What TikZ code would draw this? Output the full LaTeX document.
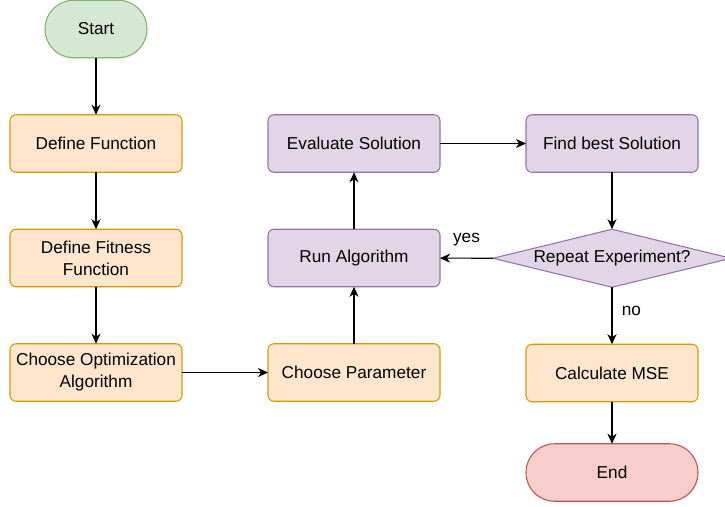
\documentclass[tikz,border=0pt]{standalone}
\usepackage{fontspec}
\setmainfont{Liberation Sans}
\usetikzlibrary{positioning}
\usetikzlibrary{shapes.geometric}
\usetikzlibrary{arrows.meta}

\definecolor{greenfill}{HTML}{D5E8D4}
\definecolor{greenline}{HTML}{82B366}
\definecolor{orangefill}{HTML}{FFE6CC}
\definecolor{orangeline}{HTML}{D79B00}
\definecolor{purplefill}{HTML}{E1D5E7}
\definecolor{purpleline}{HTML}{9673A6}
\definecolor{redfill}{HTML}{F8CECC}
\definecolor{redline}{HTML}{B85450}

\begin{document}
\begin{tikzpicture}
		[font=\fontsize{9.8}{12.5}\selectfont, line width=0.6pt,
		 node distance=1.14cm and 1.72cm,
		 process/.style={rectangle, rounded corners=0.12cm, minimum width=3.44cm, minimum height=1.15cm, align=center, inner sep=1pt, outer sep=0pt},
		 orangebox/.style={process, fill=orangefill, draw=orangeline},
		 purplebox/.style={process, fill=purplefill, draw=purpleline},
		 terminal/.style={rectangle, rounded corners=0.57cm, minimum height=1.15cm, inner sep=1pt, outer sep=0pt},
		 decision/.style={diamond, aspect=4.1, inner sep=0pt, outer sep=0pt, minimum width=4.76cm, minimum height=1.16cm, fill=purplefill, draw=purpleline},
		 flow/.style={-{Stealth[length=2mm, width=1.8mm, inset=0.6mm]}, draw=black}]
		\useasboundingbox (0,0) rectangle (14.5,-10.12);

		\node[terminal, minimum width=2.04cm, fill=greenfill, draw=greenline] (start) at (1.92,-0.58) {Start};
		\node[orangebox, below=of start] (deffun) {Define Function};
		\node[orangebox, below=of deffun] (deffit) {Define Fitness\\Function};
		\node[orangebox, below=of deffit] (choose) {Choose Optimization\\Algorithm};
		\node[orangebox, right=of choose] (param) {Choose Parameter};
		\node[purplebox, above=of param] (run) {Run Algorithm};
		\node[purplebox, above=of run] (eval) {Evaluate Solution};
		\node[purplebox, right=of eval] (best) {Find best Solution};
		\node[decision, below=of best] (repeat) {Repeat Experiment?};
		\node[orangebox, below=of repeat] (mse) {Calculate MSE};
		\node[terminal, minimum width=3.44cm, fill=redfill, draw=redline, below=0.84cm of mse] (end) {End};

		\draw[flow] (start) to (deffun);
		\draw[flow] (deffun) to (deffit);
		\draw[flow] (deffit) to (choose);
		\draw[flow] (choose) to (param);
		\draw[flow] (param) to (run);
		\draw[flow] (run) to (eval);
		\draw[flow] (eval) to (best);
		\draw[flow] (best) to (repeat);
		\draw[flow] (repeat.west) to node[midway, above=3pt] {yes} (run);
		\draw[flow] (repeat) to node[midway, right=2pt, yshift=3pt] {no} (mse);
		\draw[flow] (mse) to (end);
	\end{tikzpicture}
\end{document}
